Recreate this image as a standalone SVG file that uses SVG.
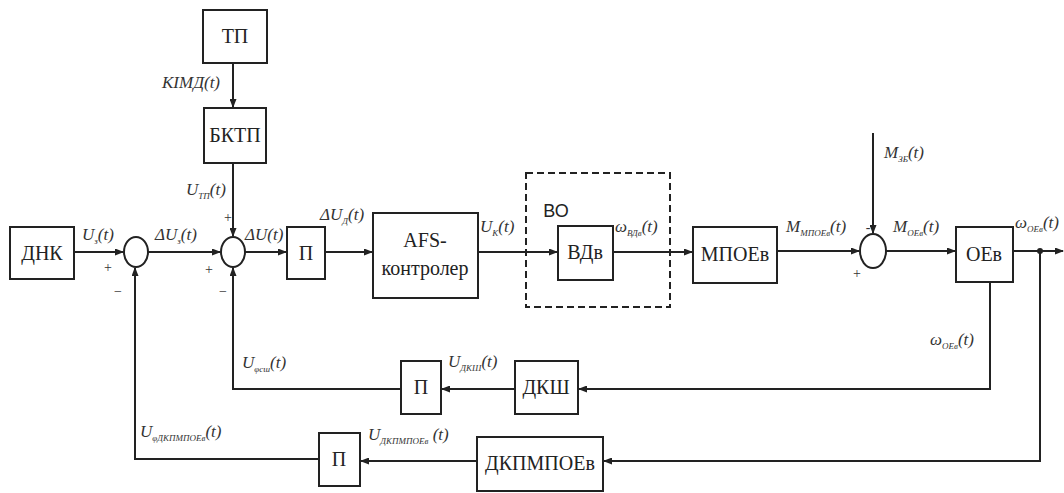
<svg xmlns="http://www.w3.org/2000/svg" width="1064" height="493" viewBox="0 0 1064 493">
<defs>
<style>
.b{fill:#fff;stroke:#222;stroke-width:2}
.s{fill:#fff;stroke:#222;stroke-width:2}
.c{fill:none;stroke:#222;stroke-width:2}
.t{font-family:"Liberation Serif","Times New Roman","DejaVu Serif",serif;font-size:20px;fill:#222;text-anchor:middle}
.l{font-family:"Liberation Serif","Times New Roman","DejaVu Serif",serif;font-style:italic;font-size:17px;fill:#333}
.sub{font-size:9px}
.p{font-family:"Liberation Serif","Times New Roman",serif;font-size:14px;fill:#333;text-anchor:middle}
</style>
<marker id="a" markerWidth="9" markerHeight="7" refX="8" refY="3.5" orient="auto" markerUnits="userSpaceOnUse">
<path d="M0,0 L9,3.5 L0,7 z" fill="#222"/>
</marker>
</defs>
<rect width="1064" height="493" fill="#fff"/>

<g id="connectors" class="c">
<path d="M233,63 V107" marker-end="url(#a)"/>
<path d="M233,163 V236" marker-end="url(#a)"/>
<path d="M74,252 H123" marker-end="url(#a)"/>
<path d="M148,252 H220" marker-end="url(#a)"/>
<path d="M245,252 H286" marker-end="url(#a)"/>
<path d="M325,252 H372" marker-end="url(#a)"/>
<path d="M478,252 H557" marker-end="url(#a)"/>
<path d="M613,252 H692" marker-end="url(#a)"/>
<path d="M777,251 H859" marker-end="url(#a)"/>
<path d="M873,133 V233" marker-end="url(#a)"/>
<path d="M886,251 H955" marker-end="url(#a)"/>
<path d="M1013,251 H1063" marker-end="url(#a)"/>
<path d="M990,282 V389 H579" marker-end="url(#a)"/>
<path d="M515,389 H442" marker-end="url(#a)"/>
<path d="M401,389 H233 V268" marker-end="url(#a)"/>
<path d="M1040,251 V461 H604" marker-end="url(#a)"/>
<path d="M477,461 H361" marker-end="url(#a)"/>
<path d="M319,459 H135 V268" marker-end="url(#a)"/>
<circle cx="1040" cy="251" r="3" fill="#222" stroke="none"/>
</g>

<g id="TP"><rect class="b" x="203" y="10" width="64" height="53"/><text class="t" x="235" y="43">ТП</text></g>
<g id="BKTP"><rect class="b" x="204" y="108" width="62" height="55"/><text class="t" x="235" y="142">БКТП</text></g>
<g id="DNK"><rect class="b" x="10" y="227" width="64" height="52"/><text class="t" x="42" y="260">ДНК</text></g>
<g id="sum1"><ellipse class="s" cx="136" cy="252" rx="12" ry="15"/></g>
<g id="sum2"><ellipse class="s" cx="233" cy="252" rx="12" ry="15"/></g>
<g id="P1"><rect class="b" x="287" y="227" width="38" height="52"/><text class="t" x="306" y="260">П</text></g>
<g id="AFS"><rect class="b" x="373" y="213" width="105" height="85"/><text class="t" x="425" y="247">AFS-</text><text class="t" x="425" y="275">контролер</text></g>
<g id="VO"><rect x="526" y="173" width="144" height="134" fill="none" stroke="#222" stroke-width="2" stroke-dasharray="7,4"/><text class="t" x="556" y="217" style="font-family:'Liberation Sans',sans-serif;font-size:18px">ВО</text></g>
<g id="VDv"><rect class="b" x="558" y="226" width="55" height="54"/><text class="t" x="585" y="259">ВДв</text></g>
<g id="MPOEv"><rect class="b" x="693" y="227" width="84" height="56"/><text class="t" x="735" y="261">МПОЕв</text></g>
<g id="sum3"><ellipse class="s" cx="873" cy="251" rx="13" ry="17"/></g>
<g id="OEv"><rect class="b" x="956" y="227" width="57" height="55"/><text class="t" x="984" y="261">ОЕв</text></g>
<g id="DKSh"><rect class="b" x="515" y="361" width="63" height="53"/><text class="t" x="546" y="394">ДКШ</text></g>
<g id="P2"><rect class="b" x="401" y="361" width="40" height="53"/><text class="t" x="421" y="394">П</text></g>
<g id="DKPMPOEv"><rect class="b" x="477" y="437" width="126" height="54"/><text class="t" x="540" y="470">ДКПМПОЕв</text></g>
<g id="P3"><rect class="b" x="319" y="433" width="41" height="53"/><text class="t" x="339" y="466">П</text></g>

<g id="labels">
<text class="l" x="162" y="88">KIMД(t)</text>
<text class="l" x="186" y="195">U<tspan class="sub" dy="4">ТП</tspan><tspan dy="-4">(t)</tspan></text>
<text class="l" x="82" y="240">U<tspan class="sub" dy="4">з</tspan><tspan dy="-4">(t)</tspan></text>
<text class="l" x="155" y="240">ΔU<tspan class="sub" dy="4">з</tspan><tspan dy="-4">(t)</tspan></text>
<text class="l" x="245" y="240">ΔU(t)</text>
<text class="l" x="320" y="220">ΔU<tspan class="sub" dy="4">Д</tspan><tspan dy="-4">(t)</tspan></text>
<text class="l" x="480" y="232">U<tspan class="sub" dy="4">К</tspan><tspan dy="-4">(t)</tspan></text>
<text class="l" x="615" y="232">ω<tspan class="sub" dy="4">ВДв</tspan><tspan dy="-4">(t)</tspan></text>
<text class="l" x="786" y="232">M<tspan class="sub" dy="4">МПОЕв</tspan><tspan dy="-4">(t)</tspan></text>
<text class="l" x="893" y="232">M<tspan class="sub" dy="4">ОЕв</tspan><tspan dy="-4">(t)</tspan></text>
<text class="l" x="884" y="158">M<tspan class="sub" dy="4">ЗБ</tspan><tspan dy="-4">(t)</tspan></text>
<text class="l" x="1015" y="228">ω<tspan class="sub" dy="4">ОЕв</tspan><tspan dy="-4">(t)</tspan></text>
<text class="l" x="930" y="345">ω<tspan class="sub" dy="4">ОЕв</tspan><tspan dy="-4">(t)</tspan></text>
<text class="l" x="448" y="367">U<tspan class="sub" dy="4">ДКШ</tspan><tspan dy="-4">(t)</tspan></text>
<text class="l" x="242" y="368">U<tspan class="sub" dy="4">φсш</tspan><tspan dy="-4">(t)</tspan></text>
<text class="l" x="140" y="437">U<tspan class="sub" dy="4">φДКПМПОЕв</tspan><tspan dy="-4">(t)</tspan></text>
<text class="l" x="368" y="440">U<tspan class="sub" dy="4">ДКПМПОЕв</tspan><tspan dy="-4"> (t)</tspan></text>
<text class="p" x="228" y="222">+</text>
<text class="p" x="108" y="272">+</text>
<text class="p" x="118" y="296">−</text>
<text class="p" x="209" y="274">+</text>
<text class="p" x="223" y="296">−</text>
<text class="p" x="868" y="232">-</text>
<text class="p" x="857" y="278">+</text>
</g>
</svg>
